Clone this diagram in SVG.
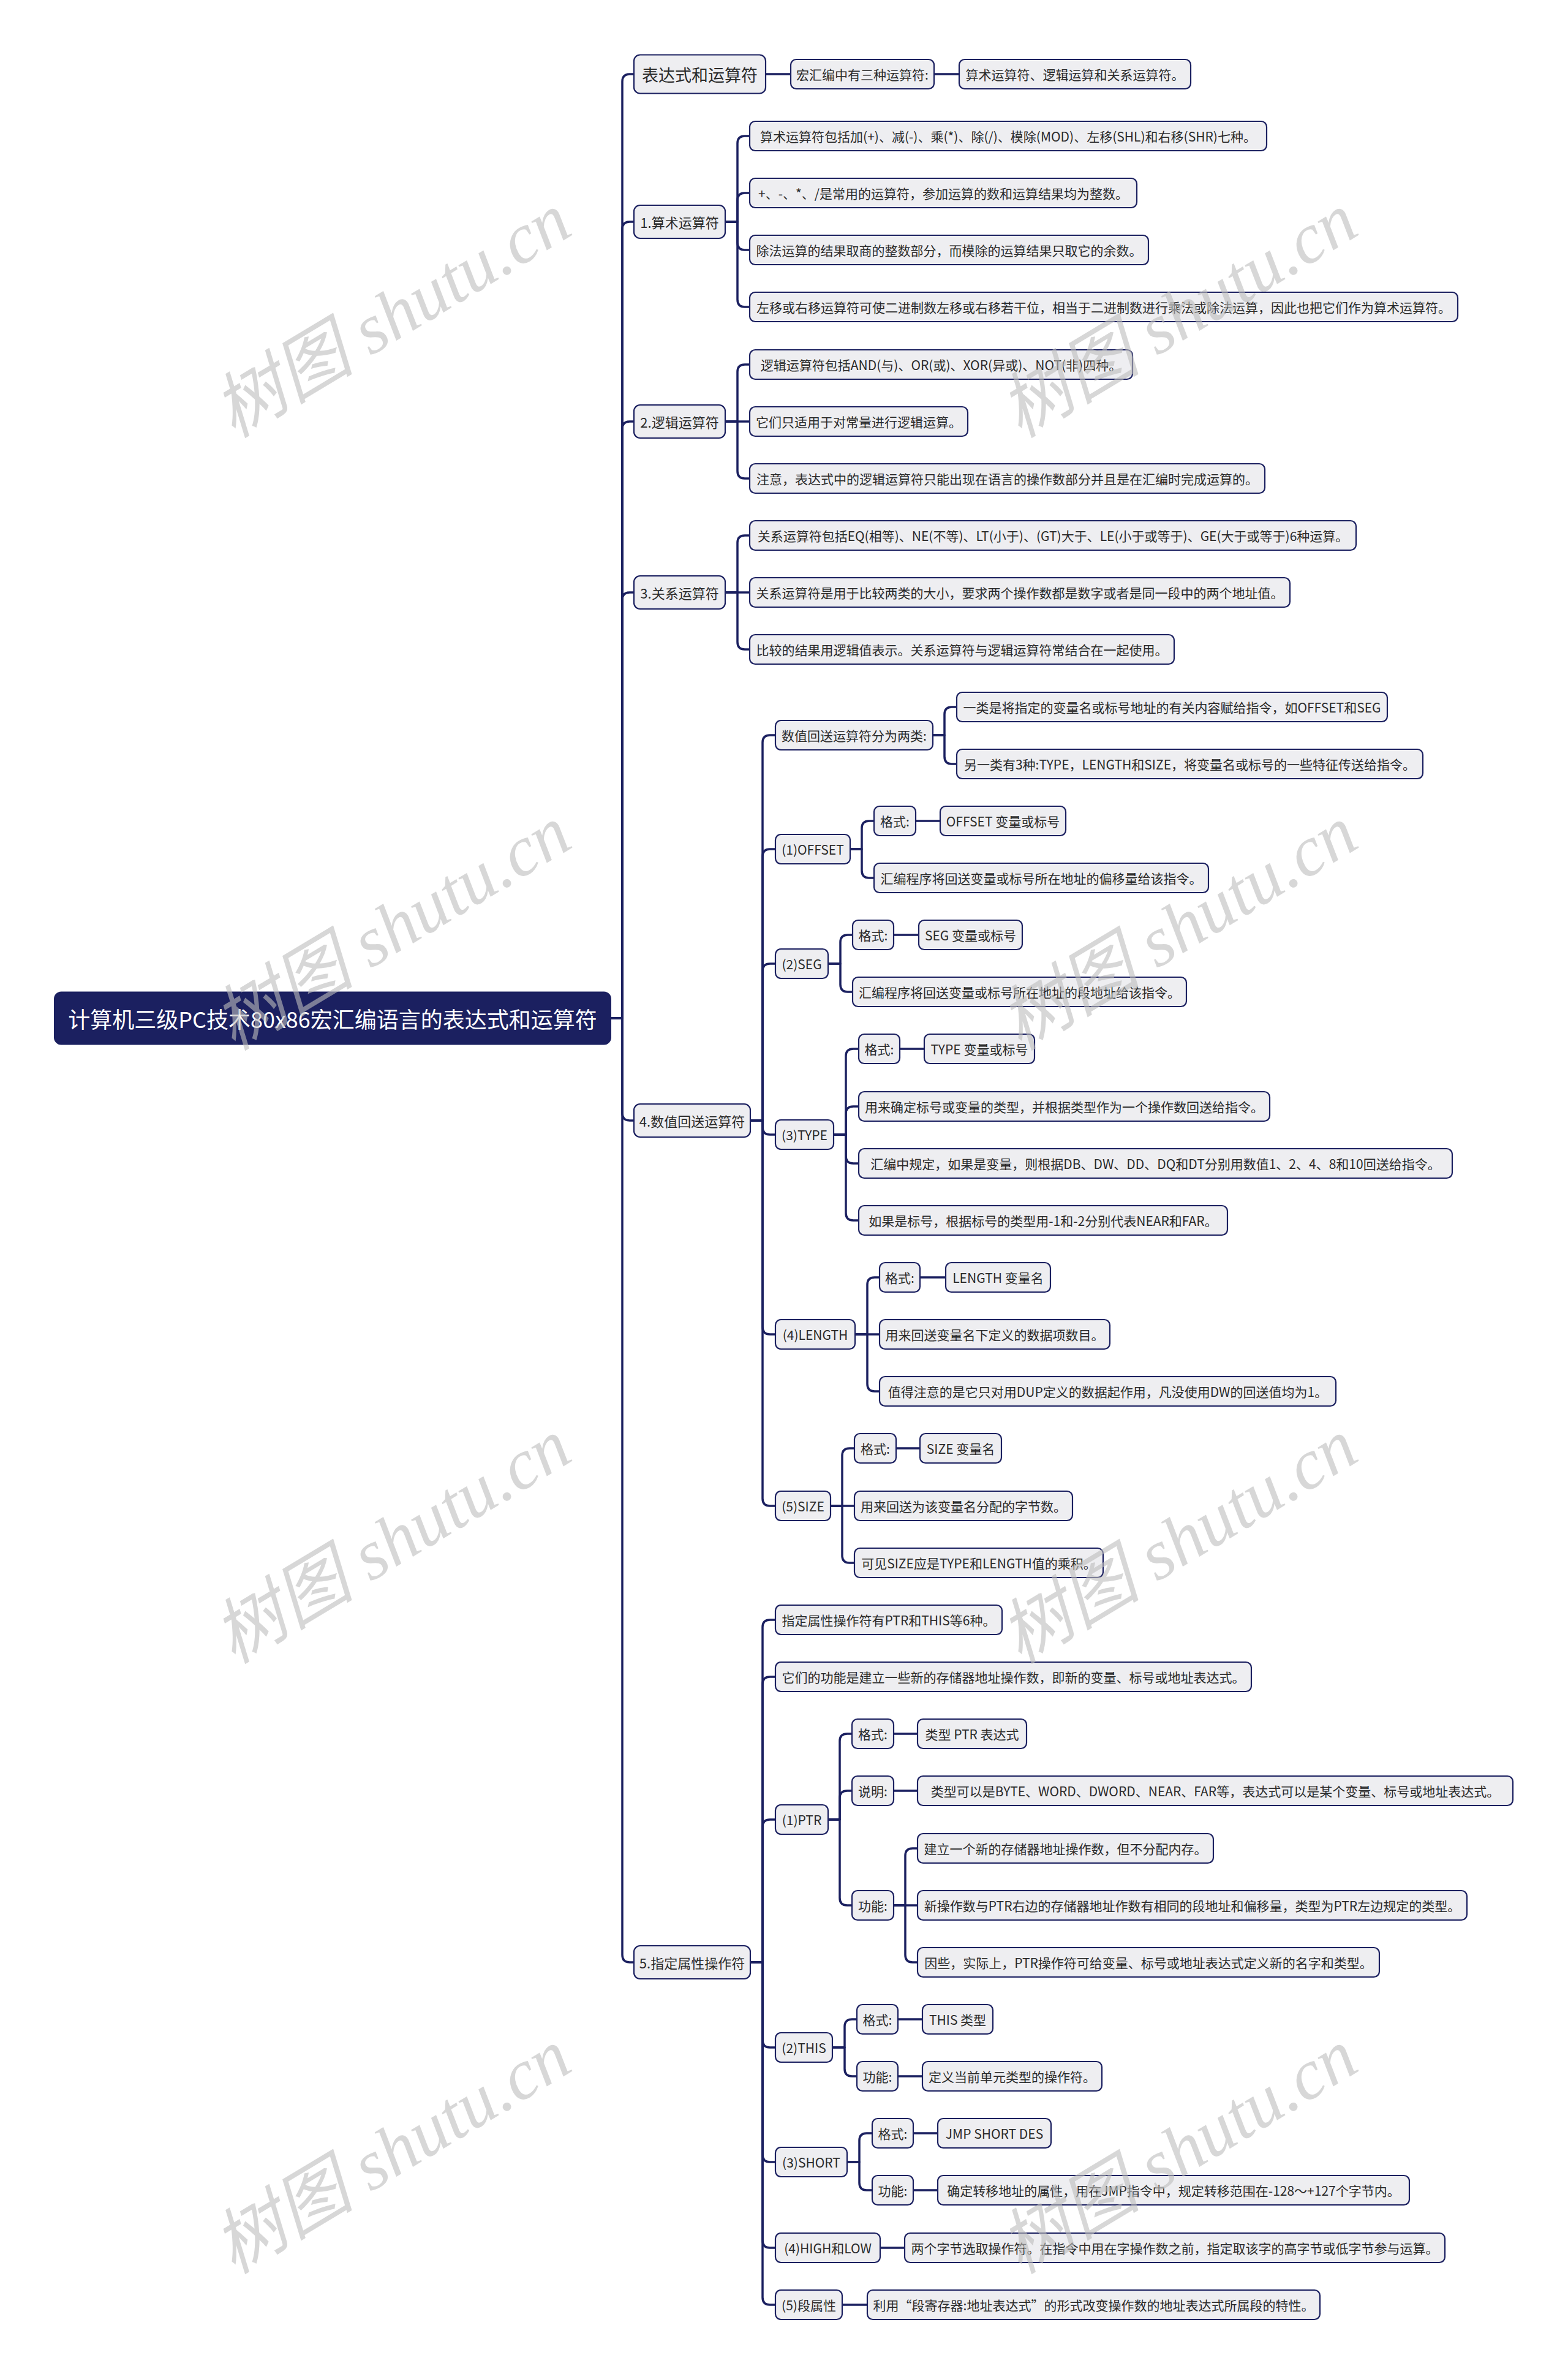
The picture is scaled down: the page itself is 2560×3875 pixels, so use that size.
<svg xmlns="http://www.w3.org/2000/svg" width="2560" height="3875" viewBox="0 0 2560 3875">
<style>
.bg{fill:#ffffff}
.c path{fill:none;stroke:#1b2060;stroke-width:3.5;stroke-linecap:round;stroke-linejoin:round}
.n{fill:#eeeef1;stroke:#1b2060;stroke-width:2.2}
.t{font-family:"Noto Sans CJK SC","Noto Sans",sans-serif;font-size:21px;fill:#2a2a2a;text-anchor:middle;dominant-baseline:central}
.t1{font-size:22px}
.t0{font-size:27px}
.root{fill:#1b2060;stroke:#1b2060;stroke-width:2}
.rt{font-family:"Noto Sans CJK SC","Noto Sans",sans-serif;font-size:36px;fill:#ffffff;text-anchor:middle;dominant-baseline:central}
.wm{font-family:"Liberation Serif","Noto Sans CJK SC",serif;font-style:italic;font-size:116px;fill:#bdbdbd;opacity:0.6;text-anchor:middle;dominant-baseline:central}
</style>
<rect class="bg" x="0" y="0" width="2560" height="3875"/>
<g id="connectors" class="c">
<path d="M997 1662 H1016 V133 Q1016 121 1028 121 H1035"/>
<path d="M997 1662 H1016 V374 Q1016 362 1028 362 H1035"/>
<path d="M997 1662 H1016 V700 Q1016 688 1028 688 H1035"/>
<path d="M997 1662 H1016 V979 Q1016 967 1028 967 H1035"/>
<path d="M997 1662 H1016 V1817 Q1016 1829 1028 1829 H1035"/>
<path d="M997 1662 H1016 V3191 Q1016 3203 1028 3203 H1035"/>
<path d="M1250 121 H1291"/>
<path d="M1525 121 H1566"/>
<path d="M1184 362 H1204 V234 Q1204 222 1216 222 H1224"/>
<path d="M1184 362 H1204 V327 Q1204 315 1216 315 H1224"/>
<path d="M1184 362 H1204 V396 Q1204 408 1216 408 H1224"/>
<path d="M1184 362 H1204 V489 Q1204 501 1216 501 H1224"/>
<path d="M1184 688 H1204 V607 Q1204 595 1216 595 H1224"/>
<path d="M1184 688 H1224"/>
<path d="M1184 688 H1204 V769 Q1204 781 1216 781 H1224"/>
<path d="M1184 967 H1204 V886 Q1204 874 1216 874 H1224"/>
<path d="M1184 967 H1224"/>
<path d="M1184 967 H1204 V1048 Q1204 1060 1216 1060 H1224"/>
<path d="M1225 1829 H1245 V1212 Q1245 1200 1257 1200 H1266"/>
<path d="M1225 1829 H1245 V1398 Q1245 1386 1257 1386 H1266"/>
<path d="M1225 1829 H1245 V1585 Q1245 1573 1257 1573 H1266"/>
<path d="M1225 1829 H1245 V1840 Q1245 1852 1257 1852 H1266"/>
<path d="M1225 1829 H1245 V2166 Q1245 2178 1257 2178 H1266"/>
<path d="M1225 1829 H1245 V2446 Q1245 2458 1257 2458 H1266"/>
<path d="M1523 1200 H1542 V1166 Q1542 1154 1554 1154 H1562"/>
<path d="M1523 1200 H1542 V1235 Q1542 1247 1554 1247 H1562"/>
<path d="M1388 1386 H1407 V1352 Q1407 1340 1419 1340 H1427"/>
<path d="M1388 1386 H1407 V1421 Q1407 1433 1419 1433 H1427"/>
<path d="M1495 1340 H1535"/>
<path d="M1352 1573 H1372 V1538 Q1372 1526 1384 1526 H1392"/>
<path d="M1352 1573 H1372 V1607 Q1372 1619 1384 1619 H1392"/>
<path d="M1459 1526 H1500"/>
<path d="M1361 1852 H1381 V1724 Q1381 1712 1393 1712 H1402"/>
<path d="M1361 1852 H1381 V1818 Q1381 1806 1393 1806 H1402"/>
<path d="M1361 1852 H1381 V1887 Q1381 1899 1393 1899 H1402"/>
<path d="M1361 1852 H1381 V1980 Q1381 1992 1393 1992 H1402"/>
<path d="M1469 1712 H1509"/>
<path d="M1396 2178 H1416 V2097 Q1416 2085 1428 2085 H1436"/>
<path d="M1396 2178 H1436"/>
<path d="M1396 2178 H1416 V2259 Q1416 2271 1428 2271 H1436"/>
<path d="M1502 2085 H1544"/>
<path d="M1356 2458 H1375 V2376 Q1375 2364 1387 2364 H1395"/>
<path d="M1356 2458 H1395"/>
<path d="M1356 2458 H1375 V2539 Q1375 2551 1387 2551 H1395"/>
<path d="M1463 2364 H1502"/>
<path d="M1225 3203 H1245 V2656 Q1245 2644 1257 2644 H1266"/>
<path d="M1225 3203 H1245 V2749 Q1245 2737 1257 2737 H1266"/>
<path d="M1225 3203 H1245 V2982 Q1245 2970 1257 2970 H1266"/>
<path d="M1225 3203 H1245 V3330 Q1245 3342 1257 3342 H1266"/>
<path d="M1225 3203 H1245 V3517 Q1245 3529 1257 3529 H1266"/>
<path d="M1225 3203 H1245 V3657 Q1245 3669 1257 3669 H1266"/>
<path d="M1225 3203 H1245 V3750 Q1245 3762 1257 3762 H1266"/>
<path d="M1352 2970 H1371 V2842 Q1371 2830 1383 2830 H1391"/>
<path d="M1352 2970 H1371 V2935 Q1371 2923 1383 2923 H1391"/>
<path d="M1352 2970 H1371 V3098 Q1371 3110 1383 3110 H1391"/>
<path d="M1459 2830 H1498"/>
<path d="M1459 2923 H1498"/>
<path d="M1459 3110 H1478 V3029 Q1478 3017 1490 3017 H1498"/>
<path d="M1459 3110 H1498"/>
<path d="M1459 3110 H1478 V3191 Q1478 3203 1490 3203 H1498"/>
<path d="M1359 3342 H1379 V3308 Q1379 3296 1391 3296 H1399"/>
<path d="M1359 3342 H1379 V3377 Q1379 3389 1391 3389 H1399"/>
<path d="M1466 3296 H1506"/>
<path d="M1466 3389 H1506"/>
<path d="M1383 3529 H1403 V3494 Q1403 3482 1415 3482 H1424"/>
<path d="M1383 3529 H1403 V3563 Q1403 3575 1415 3575 H1424"/>
<path d="M1491 3482 H1531"/>
<path d="M1491 3575 H1531"/>
<path d="M1437 3669 H1477"/>
<path d="M1375 3762 H1416"/>
</g>
<g id="root"><rect class="root" x="89" y="1619.5" width="908" height="85" rx="11"/><text class="rt" x="543" y="1662">计算机三级PC技术80x86宏汇编语言的表达式和运算符</text></g>
<g id="n-expr"><rect class="n" x="1035" y="89.5" width="215" height="63" rx="10"/><text class="t t0" x="1142.5" y="121">表达式和运算符</text></g>
<g id="n-expr-1"><rect class="n" x="1291" y="97" width="234" height="48" rx="9"/><text class="t" x="1408" y="121">宏汇编中有三种运算符:</text></g>
<g id="n-expr-1-1"><rect class="n" x="1566" y="97" width="378" height="48" rx="9"/><text class="t" x="1755" y="121">算术运算符、逻辑运算和关系运算符。</text></g>
<g id="n-arith"><rect class="n" x="1035" y="335" width="149" height="54" rx="10"/><text class="t t1" x="1109.5" y="362">1.算术运算符</text></g>
<g id="n-arith-1"><rect class="n" x="1224" y="198" width="844" height="48" rx="9"/><text class="t" x="1646" y="222">算术运算符包括加(+)、减(-)、乘(*)、除(/)、模除(MOD)、左移(SHL)和右移(SHR)七种。</text></g>
<g id="n-arith-2"><rect class="n" x="1224" y="291" width="632" height="48" rx="9"/><text class="t" x="1540" y="315">+、-、*、/是常用的运算符，参加运算的数和运算结果均为整数。</text></g>
<g id="n-arith-3"><rect class="n" x="1224" y="384" width="651" height="48" rx="9"/><text class="t" x="1549.5" y="408">除法运算的结果取商的整数部分，而模除的运算结果只取它的余数。</text></g>
<g id="n-arith-4"><rect class="n" x="1224" y="477" width="1156" height="48" rx="9"/><text class="t" x="1802" y="501">左移或右移运算符可使二进制数左移或右移若干位，相当于二进制数进行乘法或除法运算，因此也把它们作为算术运算符。</text></g>
<g id="n-logic"><rect class="n" x="1035" y="661" width="149" height="54" rx="10"/><text class="t t1" x="1109.5" y="688">2.逻辑运算符</text></g>
<g id="n-logic-1"><rect class="n" x="1224" y="571" width="625" height="48" rx="9"/><text class="t" x="1536.5" y="595">逻辑运算符包括AND(与)、OR(或)、XOR(异或)、NOT(非)四种。</text></g>
<g id="n-logic-2"><rect class="n" x="1224" y="664" width="356" height="48" rx="9"/><text class="t" x="1402" y="688">它们只适用于对常量进行逻辑运算。</text></g>
<g id="n-logic-3"><rect class="n" x="1224" y="757" width="841" height="48" rx="9"/><text class="t" x="1644.5" y="781">注意，表达式中的逻辑运算符只能出现在语言的操作数部分并且是在汇编时完成运算的。</text></g>
<g id="n-rel"><rect class="n" x="1035" y="940" width="149" height="54" rx="10"/><text class="t t1" x="1109.5" y="967">3.关系运算符</text></g>
<g id="n-rel-1"><rect class="n" x="1224" y="850" width="990" height="48" rx="9"/><text class="t" x="1719" y="874">关系运算符包括EQ(相等)、NE(不等)、LT(小于)、(GT)大于、LE(小于或等于)、GE(大于或等于)6种运算。</text></g>
<g id="n-rel-2"><rect class="n" x="1224" y="943" width="882" height="48" rx="9"/><text class="t" x="1665" y="967">关系运算符是用于比较两类的大小，要求两个操作数都是数字或者是同一段中的两个地址值。</text></g>
<g id="n-rel-3"><rect class="n" x="1224" y="1036" width="693" height="48" rx="9"/><text class="t" x="1570.5" y="1060">比较的结果用逻辑值表示。关系运算符与逻辑运算符常结合在一起使用。</text></g>
<g id="n-val"><rect class="n" x="1035" y="1802" width="190" height="54" rx="10"/><text class="t t1" x="1130" y="1829">4.数值回送运算符</text></g>
<g id="n-val-0"><rect class="n" x="1266" y="1176" width="257" height="48" rx="9"/><text class="t" x="1394.5" y="1200">数值回送运算符分为两类:</text></g>
<g id="n-val-0-1"><rect class="n" x="1562" y="1130" width="703" height="48" rx="9"/><text class="t" x="1913.5" y="1154">一类是将指定的变量名或标号地址的有关内容赋给指令，如OFFSET和SEG</text></g>
<g id="n-val-0-2"><rect class="n" x="1562" y="1223" width="761" height="48" rx="9"/><text class="t" x="1942.5" y="1247">另一类有3种:TYPE，LENGTH和SIZE，将变量名或标号的一些特征传送给指令。</text></g>
<g id="n-offset"><rect class="n" x="1266" y="1362" width="122" height="48" rx="9"/><text class="t" x="1327" y="1386">(1)OFFSET</text></g>
<g id="n-offset-f"><rect class="n" x="1427" y="1316" width="68" height="48" rx="9"/><text class="t" x="1461" y="1340">格式:</text></g>
<g id="n-offset-fv"><rect class="n" x="1535" y="1316" width="205" height="48" rx="9"/><text class="t" x="1637.5" y="1340">OFFSET 变量或标号</text></g>
<g id="n-offset-2"><rect class="n" x="1427" y="1409" width="546" height="48" rx="9"/><text class="t" x="1700" y="1433">汇编程序将回送变量或标号所在地址的偏移量给该指令。</text></g>
<g id="n-seg"><rect class="n" x="1266" y="1549" width="86" height="48" rx="9"/><text class="t" x="1309" y="1573">(2)SEG</text></g>
<g id="n-seg-f"><rect class="n" x="1392" y="1502" width="67" height="48" rx="9"/><text class="t" x="1425.5" y="1526">格式:</text></g>
<g id="n-seg-fv"><rect class="n" x="1500" y="1502" width="169" height="48" rx="9"/><text class="t" x="1584.5" y="1526">SEG 变量或标号</text></g>
<g id="n-seg-2"><rect class="n" x="1392" y="1595" width="545" height="48" rx="9"/><text class="t" x="1664.5" y="1619">汇编程序将回送变量或标号所在地址的段地址给该指令。</text></g>
<g id="n-type"><rect class="n" x="1266" y="1828" width="95" height="48" rx="9"/><text class="t" x="1313.5" y="1852">(3)TYPE</text></g>
<g id="n-type-f"><rect class="n" x="1402" y="1688" width="67" height="48" rx="9"/><text class="t" x="1435.5" y="1712">格式:</text></g>
<g id="n-type-fv"><rect class="n" x="1509" y="1688" width="180" height="48" rx="9"/><text class="t" x="1599" y="1712">TYPE 变量或标号</text></g>
<g id="n-type-2"><rect class="n" x="1402" y="1782" width="671" height="48" rx="9"/><text class="t" x="1737.5" y="1806">用来确定标号或变量的类型，并根据类型作为一个操作数回送给指令。</text></g>
<g id="n-type-3"><rect class="n" x="1402" y="1875" width="969" height="48" rx="9"/><text class="t" x="1886.5" y="1899">汇编中规定，如果是变量，则根据DB、DW、DD、DQ和DT分别用数值1、2、4、8和10回送给指令。</text></g>
<g id="n-type-4"><rect class="n" x="1402" y="1968" width="602" height="48" rx="9"/><text class="t" x="1703" y="1992">如果是标号，根据标号的类型用-1和-2分别代表NEAR和FAR。</text></g>
<g id="n-length"><rect class="n" x="1266" y="2154" width="130" height="48" rx="9"/><text class="t" x="1331" y="2178">(4)LENGTH</text></g>
<g id="n-length-f"><rect class="n" x="1436" y="2061" width="66" height="48" rx="9"/><text class="t" x="1469" y="2085">格式:</text></g>
<g id="n-length-fv"><rect class="n" x="1544" y="2061" width="171" height="48" rx="9"/><text class="t" x="1629.5" y="2085">LENGTH 变量名</text></g>
<g id="n-length-2"><rect class="n" x="1436" y="2154" width="376" height="48" rx="9"/><text class="t" x="1624" y="2178">用来回送变量名下定义的数据项数目。</text></g>
<g id="n-length-3"><rect class="n" x="1436" y="2247" width="745" height="48" rx="9"/><text class="t" x="1808.5" y="2271">值得注意的是它只对用DUP定义的数据起作用，凡没使用DW的回送值均为1。</text></g>
<g id="n-size"><rect class="n" x="1266" y="2434" width="90" height="48" rx="9"/><text class="t" x="1311" y="2458">(5)SIZE</text></g>
<g id="n-size-f"><rect class="n" x="1395" y="2340" width="68" height="48" rx="9"/><text class="t" x="1429" y="2364">格式:</text></g>
<g id="n-size-fv"><rect class="n" x="1502" y="2340" width="133" height="48" rx="9"/><text class="t" x="1568.5" y="2364">SIZE 变量名</text></g>
<g id="n-size-2"><rect class="n" x="1395" y="2434" width="356" height="48" rx="9"/><text class="t" x="1573" y="2458">用来回送为该变量名分配的字节数。</text></g>
<g id="n-size-3"><rect class="n" x="1395" y="2527" width="406" height="48" rx="9"/><text class="t" x="1598" y="2551">可见SIZE应是TYPE和LENGTH值的乘积。</text></g>
<g id="n-attr"><rect class="n" x="1035" y="3176" width="190" height="54" rx="10"/><text class="t t1" x="1130" y="3203">5.指定属性操作符</text></g>
<g id="n-attr-1"><rect class="n" x="1266" y="2620" width="370" height="48" rx="9"/><text class="t" x="1451" y="2644">指定属性操作符有PTR和THIS等6种。</text></g>
<g id="n-attr-2"><rect class="n" x="1266" y="2713" width="777" height="48" rx="9"/><text class="t" x="1654.5" y="2737">它们的功能是建立一些新的存储器地址操作数，即新的变量、标号或地址表达式。</text></g>
<g id="n-ptr"><rect class="n" x="1266" y="2946" width="86" height="48" rx="9"/><text class="t" x="1309" y="2970">(1)PTR</text></g>
<g id="n-ptr-f"><rect class="n" x="1391" y="2806" width="68" height="48" rx="9"/><text class="t" x="1425" y="2830">格式:</text></g>
<g id="n-ptr-fv"><rect class="n" x="1498" y="2806" width="178" height="48" rx="9"/><text class="t" x="1587" y="2830">类型 PTR 表达式</text></g>
<g id="n-ptr-s"><rect class="n" x="1391" y="2899" width="68" height="48" rx="9"/><text class="t" x="1425" y="2923">说明:</text></g>
<g id="n-ptr-sv"><rect class="n" x="1498" y="2899" width="972" height="48" rx="9"/><text class="t" x="1984" y="2923">类型可以是BYTE、WORD、DWORD、NEAR、FAR等，表达式可以是某个变量、标号或地址表达式。</text></g>
<g id="n-ptr-g"><rect class="n" x="1391" y="3086" width="68" height="48" rx="9"/><text class="t" x="1425" y="3110">功能:</text></g>
<g id="n-ptr-g1"><rect class="n" x="1498" y="2993" width="483" height="48" rx="9"/><text class="t" x="1739.5" y="3017">建立一个新的存储器地址操作数，但不分配内存。</text></g>
<g id="n-ptr-g2"><rect class="n" x="1498" y="3086" width="897" height="48" rx="9"/><text class="t" x="1946.5" y="3110">新操作数与PTR右边的存储器地址作数有相同的段地址和偏移量，类型为PTR左边规定的类型。</text></g>
<g id="n-ptr-g3"><rect class="n" x="1498" y="3179" width="754" height="48" rx="9"/><text class="t" x="1875" y="3203">因些，实际上，PTR操作符可给变量、标号或地址表达式定义新的名字和类型。</text></g>
<g id="n-this"><rect class="n" x="1266" y="3318" width="93" height="48" rx="9"/><text class="t" x="1312.5" y="3342">(2)THIS</text></g>
<g id="n-this-f"><rect class="n" x="1399" y="3272" width="67" height="48" rx="9"/><text class="t" x="1432.5" y="3296">格式:</text></g>
<g id="n-this-fv"><rect class="n" x="1506" y="3272" width="115" height="48" rx="9"/><text class="t" x="1563.5" y="3296">THIS 类型</text></g>
<g id="n-this-g"><rect class="n" x="1399" y="3365" width="67" height="48" rx="9"/><text class="t" x="1432.5" y="3389">功能:</text></g>
<g id="n-this-gv"><rect class="n" x="1506" y="3365" width="293" height="48" rx="9"/><text class="t" x="1652.5" y="3389">定义当前单元类型的操作符。</text></g>
<g id="n-short"><rect class="n" x="1266" y="3505" width="117" height="48" rx="9"/><text class="t" x="1324.5" y="3529">(3)SHORT</text></g>
<g id="n-short-f"><rect class="n" x="1424" y="3458" width="67" height="48" rx="9"/><text class="t" x="1457.5" y="3482">格式:</text></g>
<g id="n-short-fv"><rect class="n" x="1531" y="3458" width="185" height="48" rx="9"/><text class="t" x="1623.5" y="3482">JMP SHORT DES</text></g>
<g id="n-short-g"><rect class="n" x="1424" y="3551" width="67" height="48" rx="9"/><text class="t" x="1457.5" y="3575">功能:</text></g>
<g id="n-short-gv"><rect class="n" x="1531" y="3551" width="770" height="48" rx="9"/><text class="t" x="1916" y="3575">确定转移地址的属性，用在JMP指令中，规定转移范围在-128～+127个字节内。</text></g>
<g id="n-hl"><rect class="n" x="1266" y="3645" width="171" height="48" rx="9"/><text class="t" x="1351.5" y="3669">(4)HIGH和LOW</text></g>
<g id="n-hl-1"><rect class="n" x="1477" y="3645" width="882" height="48" rx="9"/><text class="t" x="1918" y="3669">两个字节选取操作符。在指令中用在字操作数之前，指定取该字的高字节或低字节参与运算。</text></g>
<g id="n-seg2"><rect class="n" x="1266" y="3738" width="109" height="48" rx="9"/><text class="t" x="1320.5" y="3762">(5)段属性</text></g>
<g id="n-seg2-1"><rect class="n" x="1416" y="3738" width="739" height="48" rx="9"/><text class="t" x="1785.5" y="3762">利用“段寄存器:地址表达式”的形式改变操作数的地址表达式所属段的特性。</text></g>
<g id="watermark">
<text class="wm" x="640" y="515" transform="rotate(-31 640 515)">树图 shutu.cn</text>
<text class="wm" x="1924" y="515" transform="rotate(-31 1924 515)">树图 shutu.cn</text>
<text class="wm" x="640" y="1515" transform="rotate(-31 640 1515)">树图 shutu.cn</text>
<text class="wm" x="1924" y="1515" transform="rotate(-31 1924 1515)">树图 shutu.cn</text>
<text class="wm" x="640" y="2516" transform="rotate(-31 640 2516)">树图 shutu.cn</text>
<text class="wm" x="1924" y="2516" transform="rotate(-31 1924 2516)">树图 shutu.cn</text>
<text class="wm" x="640" y="3512" transform="rotate(-31 640 3512)">树图 shutu.cn</text>
<text class="wm" x="1924" y="3512" transform="rotate(-31 1924 3512)">树图 shutu.cn</text>
</g>
</svg>
